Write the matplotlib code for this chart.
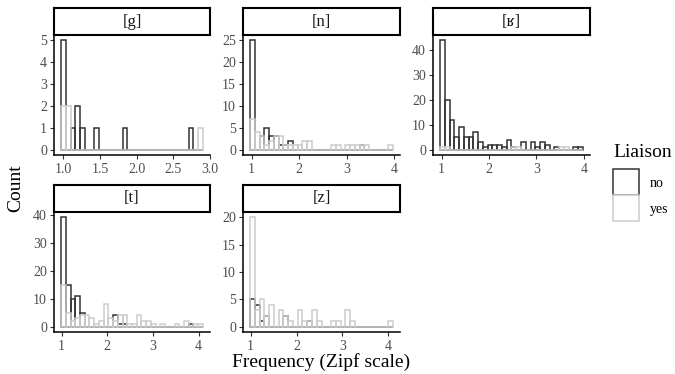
import numpy as np
import matplotlib
matplotlib.use("Agg")
import matplotlib.pyplot as plt
from matplotlib.patches import Patch

plt.rcParams['font.family'] = ['Liberation Serif', 'DejaVu Serif']

# ---- data -------------------------------------------------------------
panels = ["[g]", "[n]", "[ʁ]", "[t]", "[z]"]
# min / max Zipf frequency (bin centres of first and last of 30 bins)
g_range = (1.00, 2.87)
n_range = (1.02, 3.92)
r_range = (1.02, 3.93)
t_range = (1.04, 4.04)
z_range = (1.04, 4.05)

g_no  = [5,0,1,2,1,0,0,1,0,0,0,0,0,1,0,0,0,0,0,0,0,0,0,0,0,0,0,1,0,0]
g_yes = [2,2,0,0,0,0,0,0,0,0,0,0,0,0,0,0,0,0,0,0,0,0,0,0,0,0,0,0,0,1]

n_no  = [25,0,3,5,3,3,1,1,2,0,0,0,0,0,0,0,0,0,0,0,0,0,0,1,0,0,0,0,0,0]
n_yes = [7,4,3,1,2,3,3,1,1,1,1,2,2,0,0,0,0,1,1,0,1,1,1,1,1,0,0,0,0,1]

r_no  = [44,20,12,5,9,5,5,7,3,1,2,2,2,1,4,1,0,3,0,3,1,3,2,0,1,0,0,0,1,1]
r_yes = [1,1,0,0,0,0,0,0,0,0,0,0,0,0,0,1,1,0,0,0,0,0,0,0,0,1,1,0,0,0]

t_no  = [39,15,10,11,5,0,0,0,0,0,0,4,1,1,0,0,0,0,0,0,0,0,0,0,0,0,0,1,0,0]
t_yes = [15,5,2,3,4,4,3,1,2,8,3,2,4,4,1,1,4,2,2,1,0,1,0,0,1,0,2,0,1,1]

z_no  = [5,4,1,2,0,0,0,2,0,0,0,0,1,0,0,0,0,0,0,0,0,0,0,0,0,0,0,0,0,0]
z_yes = [20,3,5,2,4,0,3,2,1,0,3,1,1,3,1,0,0,1,1,0,3,1,0,0,0,0,0,0,0,1]

x_ticks = [[1.0, 1.5, 2.0, 2.5, 3.0], [1, 2, 3, 4], [1, 2, 3, 4], [1, 2, 3, 4], [1, 2, 3, 4]]
x_ticklabels = [["1.0", "1.5", "2.0", "2.5", "3.0"], ["1", "2", "3", "4"], ["1", "2", "3", "4"],
                ["1", "2", "3", "4"], ["1", "2", "3", "4"]]
y_ticks = [[0, 1, 2, 3, 4, 5], [0, 5, 10, 15, 20, 25], [0, 10, 20, 30, 40],
           [0, 10, 20, 30, 40], [0, 5, 10, 15, 20]]

ranges = [g_range, n_range, r_range, t_range, z_range]
no_counts = [g_no, n_no, r_no, t_no, z_no]
yes_counts = [g_yes, n_yes, r_yes, t_yes, z_yes]

groups = ["no", "yes"]
col_no = "#333333"
col_yes = "#cccccc"

# ---- layout (pixels) --------------------------------------------------
W, H = 675, 374
fig = plt.figure(figsize=(W / 100, H / 100), dpi=100)

cols = [(54, 210), (243, 400), (433, 590)]
rows = [(35, 155, 8), (212, 332, 185)]  # plot top, plot bottom, strip top
pos = [(0, 0), (0, 1), (0, 2), (1, 0), (1, 1)]

def fx(x):
    return x / W

def fy(y):
    return 1 - y / H

tick_col = "#4d4d4d"
for i, name in enumerate(panels):
    r, c = pos[i]
    x0, x1 = cols[c]
    top, bot, stop = rows[r]
    ax = fig.add_axes([fx(x0), fy(bot), fx(x1) - fx(x0), fy(top) - fy(bot)])
    lo, hi = ranges[i]
    nb = len(no_counts[i])
    w = (hi - lo) / (nb - 1)
    centers = lo + w * np.arange(nb)
    ax.bar(centers, no_counts[i], width=w, fill=False, edgecolor=col_no, linewidth=1.1, zorder=2)
    ax.bar(centers, yes_counts[i], width=w, fill=False, edgecolor=col_yes, linewidth=1.1, zorder=3)
    e0, e1 = lo - w / 2, hi + w / 2
    pad = 0.05 * (e1 - e0)
    ax.set_xlim(e0 - pad, e1 + pad)
    ymax = max(max(no_counts[i]), max(yes_counts[i]))
    ax.set_ylim(-0.05 * ymax, 1.05 * ymax)
    ax.set_xticks(x_ticks[i])
    ax.set_xticklabels(x_ticklabels[i])
    ax.set_yticks(y_ticks[i])
    for s in ["top", "right"]:
        ax.spines[s].set_visible(False)
    for s in ["left", "bottom"]:
        ax.spines[s].set_linewidth(1.1)
        ax.spines[s].set_color("black")
    ax.tick_params(axis="both", length=3, width=0.8, color="#333333",
                   labelsize=10, labelcolor=tick_col)
    ax.tick_params(axis="x", pad=3)
    ax.tick_params(axis="y", pad=2)
    ax.set_facecolor("white")
    # strip
    sax = fig.add_axes([fx(x0), fy(top), fx(x1) - fx(x0), fy(stop) - fy(top)])
    sax.set_xticks([])
    sax.set_yticks([])
    for s in sax.spines.values():
        s.set_linewidth(1.5)
        s.set_color("black")
    sax.text(0.5, 0.5, name, ha="center", va="center", fontsize=12, color="#1a1a1a",
             transform=sax.transAxes)

fig.text(fx(16), fy(188), "Count", rotation=90, ha="center", va="center", fontsize=14)
fig.text(fx(321), fy(362), "Frequency (Zipf scale)", ha="center", va="center", fontsize=14)

handles = [Patch(facecolor="white", edgecolor=col_no, linewidth=1.1),
           Patch(facecolor="white", edgecolor=col_yes, linewidth=1.1)]
leg = fig.legend(handles, groups, title="Liaison", loc="upper left",
                 bbox_to_anchor=(fx(609), fy(140)), frameon=False, fontsize=10,
                 title_fontsize=14, handlelength=1.85, handleheight=2.5,
                 labelspacing=0.0, handletextpad=0.8, borderaxespad=0,
                 borderpad=0.3)
leg._legend_box.align = "left"
leg._legend_box.sep = 6

fig.savefig("out.png", dpi=100, facecolor="white")
